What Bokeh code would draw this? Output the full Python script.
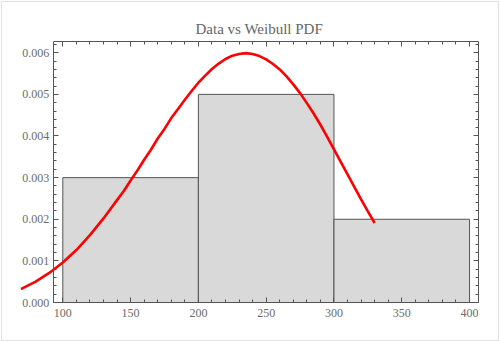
from bokeh.plotting import figure
from bokeh.models import (LinearAxis, SingleIntervalTicker, PrintfTickFormatter,
                          Range1d, CustomJSTickFormatter)
from bokeh.embed import file_html
from bokeh.resources import INLINE

# Histogram (density) data
bin_left = [100, 200, 300]
bin_right = [200, 300, 400]
density = [0.003, 0.005, 0.002]

# Weibull PDF curve
curve_x = [69, 80, 90, 100, 110, 120, 130, 140, 145, 150, 155, 160, 165, 170,
           175, 180, 185, 190, 195, 200, 205, 210, 215, 220, 225, 230, 235,
           240, 245, 250, 255, 260, 265, 270, 275, 280, 285, 290, 295, 300,
           305, 310, 315, 320, 325, 330]
curve_y = [0.00032, 0.00050, 0.00071, 0.00096, 0.00126, 0.00162, 0.00202,
           0.00246, 0.00268, 0.00293, 0.00317, 0.00343, 0.00367, 0.00394,
           0.00417, 0.00443, 0.00465, 0.00487, 0.00508, 0.00528, 0.00545,
           0.00561, 0.00574, 0.00585, 0.00593, 0.00597, 0.00599, 0.00597,
           0.00592, 0.00584, 0.00573, 0.00560, 0.00543, 0.00524, 0.00503,
           0.00479, 0.00454, 0.00427, 0.00398, 0.00368, 0.00338, 0.00308,
           0.00278, 0.00248, 0.00219, 0.00191]

title_text = "Data vs Weibull PDF"

# axis frame extent (data units)
x_lo, x_hi = 93, 406.6
y_lo, y_hi = 0, 0.00627

FONT = "Liberation Serif"
AXIS_COLOR = "#555555"
LABEL_COLOR = "#6b6b6b"

p = figure(width=500, height=342, output_backend="svg", toolbar_location=None,
           x_range=Range1d(68.8, x_hi), y_range=Range1d(-0.00048, y_hi),
           min_border_left=20, min_border_right=22, min_border_top=41,
           min_border_bottom=20, title=title_text)
p.styles = {"outline": "1px solid #e2e2e2", "outline-offset": "-2px"}

p.xgrid.visible = False
p.ygrid.visible = False
p.outline_line_color = None
p.background_fill_color = "white"
p.border_fill_color = None

p.title.align = "left"
p.title.offset = 175
p.title.text_font = FONT
p.title.text_font_size = "15px"
p.title.text_font_style = "normal"
p.title.text_color = "#666666"


def style(ax, ticker):
    ax.ticker = ticker
    ax.axis_line_color = AXIS_COLOR
    ax.major_tick_line_color = AXIS_COLOR
    ax.minor_tick_line_color = AXIS_COLOR
    ax.major_tick_in = 5
    ax.major_tick_out = 0
    ax.minor_tick_in = 3
    ax.minor_tick_out = 0
    ax.major_label_text_font = FONT
    ax.major_label_text_font_size = "12px"
    ax.major_label_text_color = LABEL_COLOR


xa = p.xaxis[0]
style(xa, SingleIntervalTicker(interval=50, num_minor_ticks=5))
xa.bounds = (x_lo, x_hi)
xa.major_label_standoff = 6
xa.fixed_location = y_lo
ya = p.yaxis[0]
style(ya, SingleIntervalTicker(interval=0.001, num_minor_ticks=5))
ya.formatter = PrintfTickFormatter(format="%.3f")
ya.major_label_standoff = 4
ya.bounds = (y_lo, y_hi)
ya.fixed_location = x_lo

top = LinearAxis(formatter=CustomJSTickFormatter(code="return ''"), major_label_standoff=0)
style(top, SingleIntervalTicker(interval=50, num_minor_ticks=5))
top.bounds = (x_lo, x_hi)
p.add_layout(top, "above")
right = LinearAxis(formatter=CustomJSTickFormatter(code="return ''"), major_label_standoff=0)
style(right, SingleIntervalTicker(interval=0.001, num_minor_ticks=5))
right.bounds = (y_lo, y_hi)
p.add_layout(right, "right")

p.quad(left=bin_left, right=bin_right, top=density, bottom=0,
       fill_color="#d9d9d9", line_color=AXIS_COLOR, line_width=1)

p.line(curve_x, curve_y, line_color="#ff0000", line_width=2.6)

open("out.html", "w").write(file_html(p, INLINE))
